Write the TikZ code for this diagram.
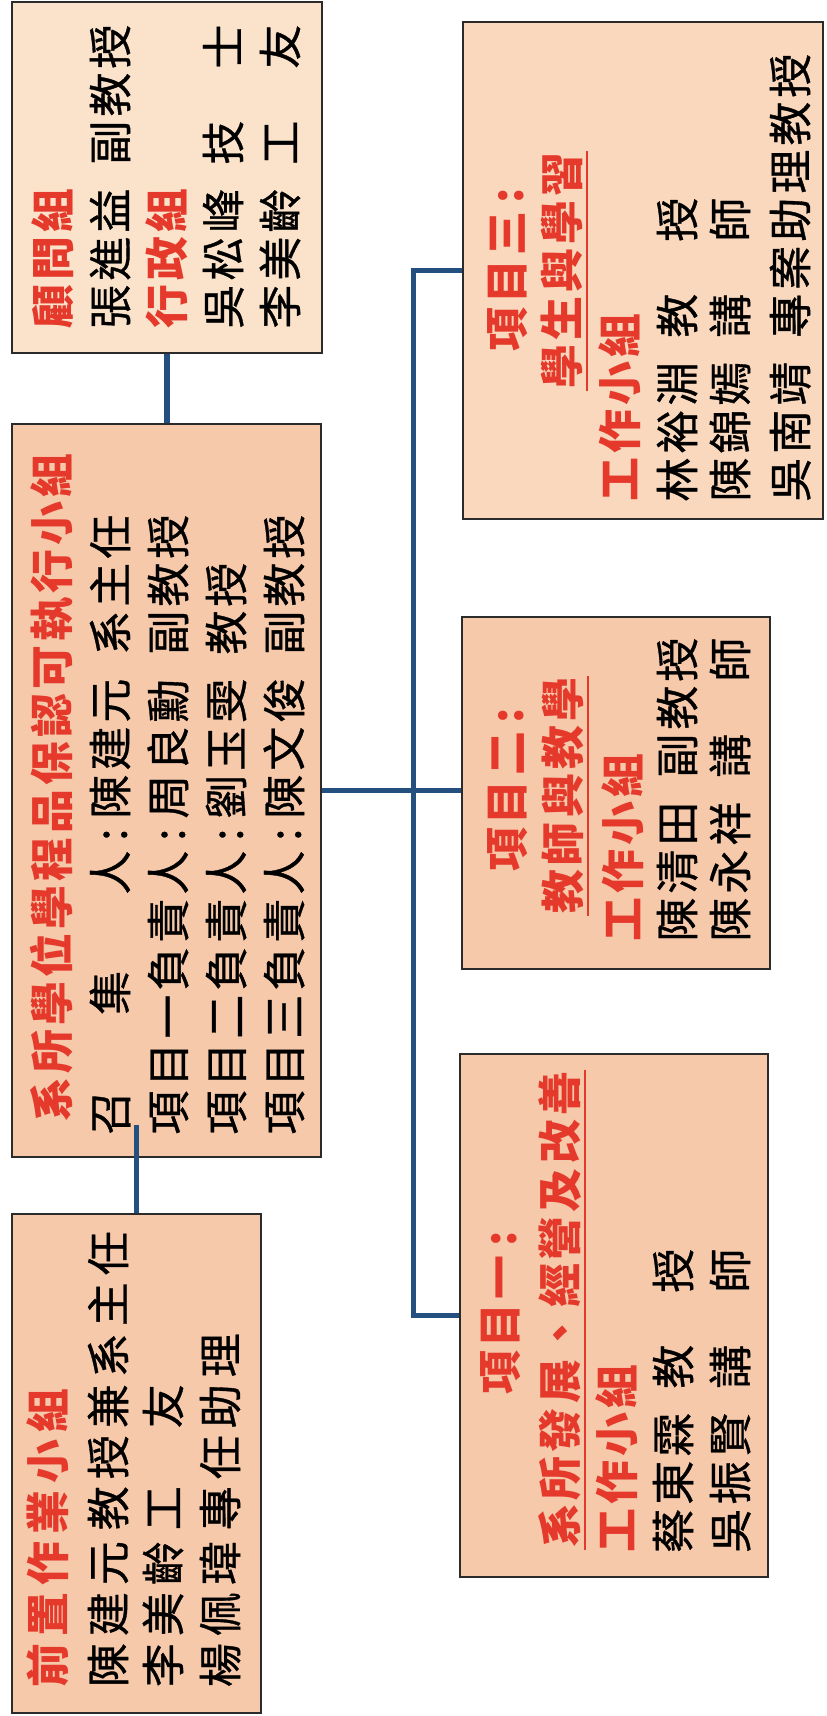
\documentclass[tikz,border=0pt]{standalone}
\usepackage{fontspec}
\newfontfamily\cjk{Noto Sans CJK TC}[FakeBold=0.8]
\newfontfamily\cjkh{Noto Sans CJK TC}
\usetikzlibrary{calc}

\newlength\px \setlength\px{0.02cm}
\newlength\cpitch \setlength\cpitch{48\px}
\makeatletter
\def\zcells#1{\zc@loop#1\zc@end}
\def\zc@loop#1{\ifx#1\zc@end\else\makebox[\cpitch]{#1}\expandafter\zc@loop\fi}
\makeatother
\newcommand\zgap{\hspace{20\px}}
\newcommand\zcolon{\makebox[28\px]{:}}

\definecolor{peach}{HTML}{F6C9AB}
\definecolor{peachlt}{HTML}{FAE3CA}
\definecolor{peachmd}{HTML}{F9D8BD}
\definecolor{zred}{HTML}{E5392B}
\definecolor{zblue}{HTML}{23507F}
\definecolor{edge}{HTML}{2B2B2B}

\begin{document}
\begin{tikzpicture}[x=0.02cm, y=-0.02cm,
    box/.style 2 args = {draw=edge, line width=1.4pt, fill=peach, minimum width=#1\px, minimum height=#2\px, inner sep=0pt},
    txt/.style = {rotate=90, anchor=west, inner sep=0pt, text height=38.7\px, text depth=5.3\px, font=\cjk\fontsize{25}{28}\selectfont},
    head/.style = {txt, text=zred, font=\cjkh\bfseries\fontsize{25}{28}\selectfont},
    link/.style = {draw=zblue, line width=2.85pt},
    uline/.style = {draw=zred, line width=1.1pt}]
  \useasboundingbox[fill=white] (0,0) rectangle (826,1716);

  % boxes
  \node[box={310}{351}, fill=peachlt] (C) at (167,177.5) {};
  \node[box={309}{733}] (B) at (166.5,790.5) {};
  \node[box={249}{499}] (A) at (136.5,1463.5) {};
  \node[box={360}{497}, fill=peachmd] (F) at (643,270.5) {};
  \node[box={308}{352}] (E) at (616,793) {};
  \node[box={308}{523}] (D) at (614,1315.5) {};

  % connectors
  \coordinate (aTop) at (136.5,1125);
  \coordinate (trunk) at (413,0);
  \draw[link] (C.south) -- (C.south |- B.north);
  \draw[link] (A.north) -- (aTop);
  \draw[link] (B.east) -- (B.east -| E.west);
  \draw[link] (F.west) -| (trunk |- D.west) -- (D.west);

  % advisers and administration
  \node[head] (c1) at (53,331) {\zcells{顧問組}};
  \node[txt] (c2) at (110,331) {\zcells{張進益}\zgap\zcells{副教授}};
  \node[head] (c3) at (167,331) {\zcells{行政組}};
  \node[txt] (c4) at (223,331) {\zcells{吳松峰}\zgap\zcells{技~士}};
  \node[txt] (c5) at (280,331) {\zcells{李美齡}\zgap\zcells{工~友}};

  % executive group
  \node[head] (b1) at (52,1124) {\zcells{系所學位學程品保認可執行小組}};
  \node[txt] (b2) at (110,1137) {\makebox[6\cpitch][s]{\zcells{召}\hfill\zcells{集}\hfill\zcells{人}}\zcolon\zcells{陳建元}\zgap\zcells{系主任}};
  \node[txt] (b3) at (168,1137) {\zcells{項目一負責人}\zcolon\zcells{周良勳}\zgap\zcells{副教授}};
  \node[txt] (b4) at (226,1137) {\zcells{項目二負責人}\zcolon\zcells{劉玉雯}\zgap\zcells{教授}};
  \node[txt] (b5) at (284,1137) {\zcells{項目三負責人}\zcolon\zcells{陳文俊}\zgap\zcells{副教授}};

  % preparation group
  \node[head, font=\cjkh\bfseries\fontsize{25}{28}\selectfont\setlength\cpitch{51\px}] (a1) at (48,1691) {\zcells{前置作業小組}};
  \node[txt, font=\cjk\fontsize{25}{28}\selectfont\setlength\cpitch{51\px}] (a2) at (108,1691) {\zcells{陳建元}\hspace{4\px}\zcells{教授兼系主任}};
  \node[txt, font=\cjk\fontsize{25}{28}\selectfont\setlength\cpitch{51\px}] (a3) at (163,1691) {\zcells{李美齡}\hspace{4\px}\zcells{工~友}};
  \node[txt, font=\cjk\fontsize{25}{28}\selectfont\setlength\cpitch{51\px}] (a4) at (220,1691) {\zcells{楊佩瑋}\hspace{4\px}\zcells{專任助理}};

  % project three
  \node[head, anchor=center] (f1) at (507,268) {\zcells{項目三}\zcolon};
  \node[head, anchor=center] (f2) at (562,271) {\zcells{學生與學習}};
  \draw[uline] ([xshift=3\px]f2.south west) -- ([xshift=3\px]f2.south east);
  \node[head] (f3) at (620,504) {\zcells{工作小組}};
  \node[txt] (f4) at (677,504) {\zcells{林裕淵}\zgap\zcells{教~授}};
  \node[txt] (f5) at (730,504) {\zcells{陳錦嫣}\zgap\zcells{講~師}};
  \node[txt] (f6) at (790,504) {\zcells{吳南靖}\zgap\zcells{專案助理教授}};

  % project two
  \node[head, anchor=center] (e1) at (507,788) {\zcells{項目二}\zcolon};
  \node[head, anchor=center] (e2) at (563,796) {\zcells{教師與教學}};
  \draw[uline] ([xshift=3\px]e2.south west) -- ([xshift=3\px]e2.south east);
  \node[head] (e3) at (623,944) {\zcells{工作小組}};
  \node[txt] (e4) at (677,944) {\zcells{陳清田}\zgap\zcells{副教授}};
  \node[txt] (e5) at (730,944) {\zcells{陳永祥}\zgap\zcells{講~師}};

  % project one
  \node[head, anchor=center] (d1) at (500,1311) {\zcells{項目一}\zcolon};
  \node[head, anchor=center] (d2) at (560,1310) {\zcells{系所發展、經營及改善}};
  \draw[uline] ([xshift=3\px]d2.south west) -- ([xshift=3\px]d2.south east);
  \node[head] (d3) at (617,1555) {\zcells{工作小組}};
  \node[txt] (d4) at (673,1555) {\zcells{蔡東霖}\zgap\zcells{教~授}};
  \node[txt] (d5) at (730,1555) {\zcells{吳振賢}\zgap\zcells{講~師}};
\end{tikzpicture}
\end{document}
